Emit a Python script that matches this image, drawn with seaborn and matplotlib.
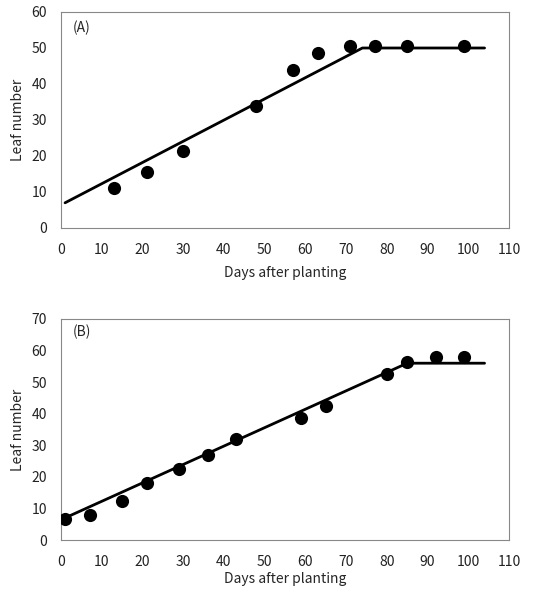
import matplotlib
matplotlib.use("Agg")
import matplotlib.pyplot as plt
import seaborn as sns

# Panel A observations and fitted line
days_a = [13, 21, 30, 48, 57, 63, 71, 77, 85, 99]
leaves_a = [11, 15.5, 21.5, 34, 44, 48.5, 50.5, 50.5, 50.5, 50.5]
line_days_a = [1, 74, 104]
line_leaves_a = [7, 50, 50]

# Panel B observations and fitted line
days_b = [1, 7, 15, 21, 29, 36, 43, 59, 65, 80, 85, 92, 99]
leaves_b = [6.5, 8, 12.5, 18, 22.5, 27, 32, 38.5, 42.5, 52.5, 56.5, 58, 58]
line_days_b = [1, 85, 104]
line_leaves_b = [7, 56, 56]

x_ticks = list(range(0, 111, 10))

sns.set_theme(style="white")
plt.rcParams["font.family"] = ["Noto Sans CJK KR", "DejaVu Sans"]

fig = plt.figure(figsize=(5.35, 5.93), dpi=100)
W, H = 535, 593
ax_a = fig.add_axes([61 / W, 1 - 228 / H, 448 / W, 216 / H])
ax_b = fig.add_axes([61 / W, 1 - 540 / H, 448 / W, 221 / H])

panels = [
    (ax_a, days_a, leaves_a, line_days_a, line_leaves_a, 60, "(A)", 6),
    (ax_b, days_b, leaves_b, line_days_b, line_leaves_b, 70, "(B)", 2),
]

for ax, dx, ly, lx, lly, ymax, label, xpad in panels:
    sns.lineplot(x=lx, y=lly, ax=ax, color="black", linewidth=2)
    sns.scatterplot(x=dx, y=ly, ax=ax, color="black", s=90,
                    edgecolor="black", linewidth=0, zorder=3)
    ax.set_xlim(0, 110)
    ax.set_ylim(0, ymax)
    ax.set_xticks(x_ticks)
    ax.set_yticks(list(range(0, ymax + 1, 10)))
    ax.tick_params(axis="x", labelsize=10, length=0, pad=11, colors="#222222")
    ax.tick_params(axis="y", labelsize=10, length=0, pad=10, colors="#222222")
    for s in ax.spines.values():
        s.set_color("#888888")
        s.set_linewidth(0.8)
    ax.set_xlabel("Days after planting", fontsize=10, labelpad=xpad)
    ax.set_ylabel("Leaf number", fontsize=10, labelpad=5)
    ax.text(3, ymax - 5.5, label, fontsize=10)

fig.savefig("out.png", dpi=100)
